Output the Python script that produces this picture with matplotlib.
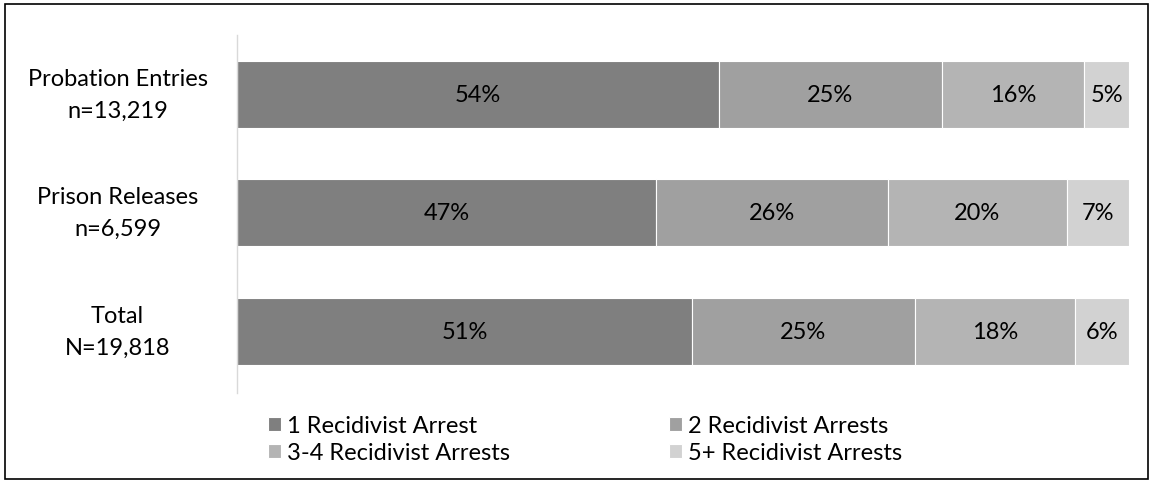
import numpy as np
import matplotlib
matplotlib.use("Agg")
from matplotlib import pyplot as plt
from matplotlib.patches import Rectangle

plt.rcParams['font.family'] = ['Lato', 'DejaVu Sans']

# Data
groups = ["Probation Entries\nn=13,219", "Prison Releases\nn=6,599", "Total\nN=19,818"]
one_arrest = [54, 47, 51]
two_arrests = [25, 26, 25]
three_four_arrests = [16, 20, 18]
five_plus_arrests = [5, 7, 6]

series_names = ["1 Recidivist Arrest", "2 Recidivist Arrests",
                "3-4 Recidivist Arrests", "5+ Recidivist Arrests"]
series = [one_arrest, two_arrests, three_four_arrests, five_plus_arrests]
colors = ["#7f7f7f", "#a0a0a0", "#b4b4b4", "#d2d2d2"]

FS = 17

fig = plt.figure(figsize=(11.53, 4.85), dpi=100)
ax = fig.add_axes([237 / 1153, 1 - 394 / 485, (1129 - 237) / 1153, (394 - 36) / 485])

y = np.arange(len(groups))
left = np.zeros(len(groups))
bars = []
for name, vals, col in zip(series_names, series, colors):
    vals = np.array(vals, dtype=float)
    b = ax.barh(y, vals, left=left, height=0.565, color=col, edgecolor="white",
                linewidth=0.8, label=name)
    bars.append(b)
    for yi, l, v in zip(y, left, vals):
        ax.text(l + v / 2, yi, f"{int(v)}%", ha="center", va="center",
                fontsize=FS, color="black")
    left += vals

ax.set_xlim(0, 100)
ax.set_ylim(2.52, -0.5)
ax.set_yticks(y)
ax.set_yticklabels(groups, fontsize=FS, ha="center", va="center", linespacing=1.65)
ax.tick_params(axis="y", length=0, pad=86)
ax.set_xticks([])
for s in ["top", "right", "bottom"]:
    ax.spines[s].set_visible(False)
ax.spines["left"].set_color("#d9d9d9")
ax.spines["left"].set_linewidth(1)

# legend fills column-wise, so reorder to get row-wise layout
order = [0, 2, 1, 3]
leg = fig.legend([bars[i] for i in order], [series_names[i] for i in order],
                 loc="upper left", bbox_to_anchor=(268 / 1153, 1 - 416 / 485),
                 ncol=2, frameon=False, fontsize=FS, handlelength=0.55,
                 handleheight=0.55, handletextpad=0.25, columnspacing=6.75,
                 labelspacing=0.27, borderaxespad=0, borderpad=0)

# outer border
fig.patches.append(Rectangle((5 / 1153, 5 / 485), 1 - 10 / 1153, 1 - 10 / 485,
                             transform=fig.transFigure, fill=False,
                             edgecolor="black", linewidth=1.2))

fig.savefig("out.png", dpi=100)
